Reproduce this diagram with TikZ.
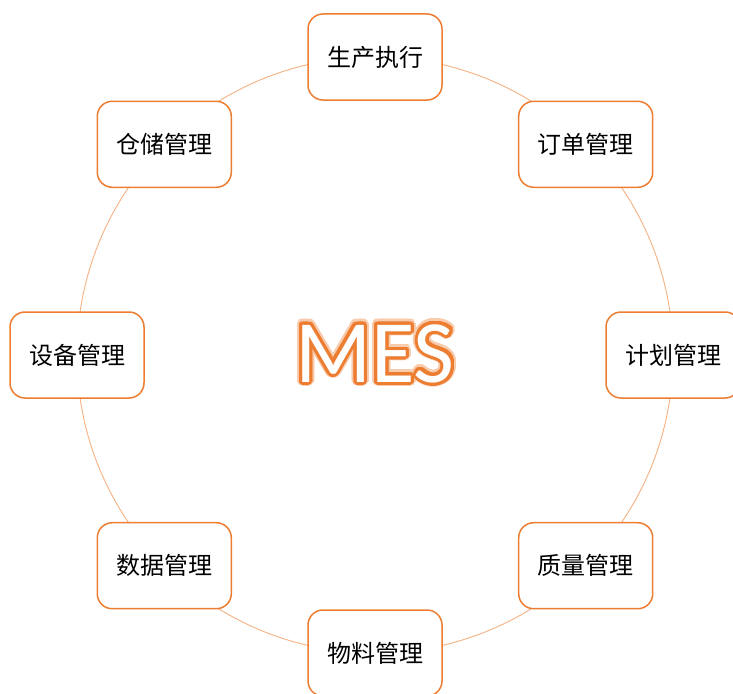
\documentclass[tikz,border=0pt]{standalone}
\usepackage{fontspec}
\usepackage{xcolor}
\usepackage{contour}
\usepackage{tikz}
\usetikzlibrary{positioning}
\newfontfamily\cjk{Noto Sans CJK SC}
\newfontfamily\mesfont{Carlito}
\definecolor{mesorange}{HTML}{ED7D31}
\definecolor{ringorange}{HTML}{F4B183}
\definecolor{glowpeach}{HTML}{F8CBAD}
\contournumber{32}

\begin{document}
\begin{tikzpicture}[x=1pt, y=-1pt,
    module/.style={draw=mesorange, fill=white, line width=1.5pt, rounded corners=15pt,
                   minimum width=134pt, minimum height=86pt, inner sep=0pt,
                   font=\cjk\fontsize{24}{27}\selectfont},
    ring/.style={circle, draw=ringorange, line width=0.9pt, minimum size=596pt,
                 inner sep=0pt, outer sep=0pt}]
  \useasboundingbox (0,0) rectangle (733,693);
  % the ring every module sits on
  \node[ring] (hub) at (375,355) {};
  % MES title
  \node[font=\mesfont\fontsize{89}{92}\selectfont] (mesglow) at (hub.center)
    {\contourlength{5pt}\contour{glowpeach}{\textcolor{glowpeach}{MES}}};
  \node[font=\mesfont\fontsize{89}{92}\selectfont] (mes) at (hub.center)
    {\contourlength{3pt}\contour{mesorange}{\textcolor{white}{MES}}};
  % modules
  \node[module] (exec)  at (hub.north)      {生产执行};
  \node[module] (order) at (hub.north east) {订单管理};
  \node[module] (plan)  at (hub.east)       {计划管理};
  \node[module] (qual)  at (hub.south east) {质量管理};
  \node[module] (mat)   at (hub.south)      {物料管理};
  \node[module] (data)  at (hub.south west) {数据管理};
  \node[module] (equip) at (hub.west)       {设备管理};
  \node[module] (store) at (hub.north west) {仓储管理};
\end{tikzpicture}
\end{document}
